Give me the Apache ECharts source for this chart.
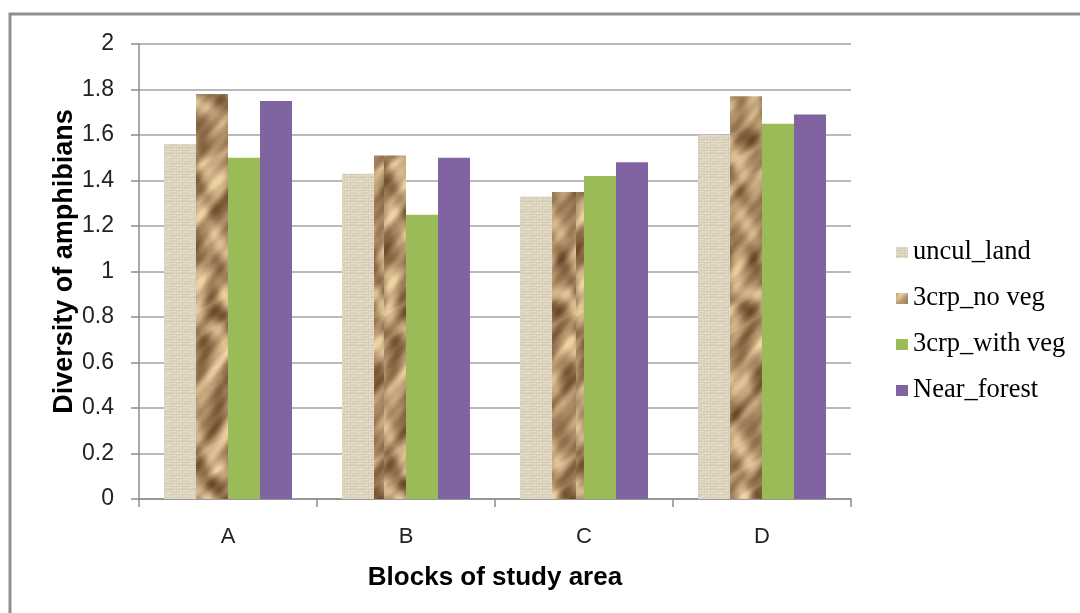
<!DOCTYPE html>
<html>
<head>
<meta charset="utf-8">
<style>
  html, body { margin: 0; padding: 0; background: #ffffff; }
  #chart { width: 1080px; height: 613px; }
</style>
<script src="https://cdn.jsdelivr.net/npm/echarts@6/dist/echarts.min.js"></script>
</head>
<body>
<div id="chart"></div>
<script>
// Blocks of the study area and the amphibian diversity index per land-use type
const categories = ['A', 'B', 'C', 'D'];
const unculLand = [1.56, 1.43, 1.33, 1.60];
const noVeg = [1.78, 1.51, 1.35, 1.77];
const withVeg = [1.50, 1.25, 1.42, 1.65];
const nearForest = [1.75, 1.50, 1.48, 1.69];
const seriesNames = ['uncul_land', '3crp_no veg', '3crp_with veg', 'Near_forest'];

// Small deterministic hash used for thread grain
function grain(x, y) {
  let h = (x * 374761393 + y * 668265263) >>> 0;
  h = ((h ^ (h >>> 13)) * 1274126177) >>> 0;
  return (h & 255) / 255;
}

// Woven linen fill
function linenTile() {
  const w = 24, h = 24;
  const c = document.createElement('canvas');
  c.width = w; c.height = h;
  const ctx = c.getContext('2d');
  const img = ctx.createImageData(w, h);
  const rowShade = [0, -6, 4, -12, 2, 0, -8, 5, -3, -14, 3, 0, -5, 6, -10, 0, 2, -7, 4, -12, 0, 3, -6, 1];
  const colShade = [0, 4, -9, 2, 0, -5, 3, 0, -10, 4, 1, -4, 0, 3, -8, 2, 0, -3, 4, -9, 1, 0, -5, 2];
  for (let y = 0; y < h; y++) {
    for (let x = 0; x < w; x++) {
      const d = rowShade[y] + colShade[x] * 0.7 + (grain(x, y) - 0.5) * 12;
      const i = (y * w + x) * 4;
      img.data[i] = Math.max(0, Math.min(255, 228 + d));
      img.data[i + 1] = Math.max(0, Math.min(255, 219 + d));
      img.data[i + 2] = Math.max(0, Math.min(255, 199 + d));
      img.data[i + 3] = 255;
    }
  }
  ctx.putImageData(img, 0, 0);
  return c;
}

// Crumpled brown paper fill
function paperTile() {
  const w = 96, h = 520;
  const c = document.createElement('canvas');
  c.width = w; c.height = h;
  const ctx = c.getContext('2d');
  const img = ctx.createImageData(w, h);
  const dark = [104, 70, 38], light = [238, 210, 164];
  for (let y = 0; y < h; y++) {
    for (let x = 0; x < w; x++) {
      const v = 0.34 * Math.sin(x * 0.17 + 3 * Math.sin(y * 0.031) + 1.5 * Math.sin(y * 0.083 + x * 0.05))
        + 0.28 * Math.sin(y * 0.09 + 2 * Math.sin(x * 0.11 - y * 0.023))
        + 0.22 * (1 - 2 * Math.abs(Math.sin(x * 0.07 + y * 0.05 + 2 * Math.sin(y * 0.04))))
        + 0.1 * Math.sin(x * 0.43 + y * 0.37)
        + (grain(x, y) - 0.5) * 0.06;
      let t = 0.56 + v * 0.6;
      t = Math.max(0, Math.min(1, t));
      const i = (y * w + x) * 4;
      img.data[i] = dark[0] + (light[0] - dark[0]) * t;
      img.data[i + 1] = dark[1] + (light[1] - dark[1]) * t;
      img.data[i + 2] = dark[2] + (light[2] - dark[2]) * t;
      img.data[i + 3] = 255;
    }
  }
  ctx.putImageData(img, 0, 0);
  return c;
}

const fills = [
  { image: linenTile(), repeat: 'repeat' },
  { image: paperTile(), repeat: 'repeat' },
  '#9bbb59',
  '#8064a2'
];
const values = [unculLand, noVeg, withVeg, nearForest];

const chart = echarts.init(document.getElementById('chart'), null, { renderer: 'canvas' });

const sansFont = 'Liberation Sans, Arial, sans-serif';

chart.setOption({
  animation: false,
  backgroundColor: '#ffffff',
  graphic: [{
    type: 'rect',
    shape: { x: 10, y: 14, width: 1100, height: 700 },
    style: { fill: 'none', stroke: '#8f8f8f', lineWidth: 3 },
    silent: true
  }],
  grid: { left: 139, right: 229, top: 44, bottom: 114 },
  legend: {
    orient: 'vertical',
    left: 891,
    top: 234,
    itemWidth: 12,
    itemHeight: 11,
    itemGap: 19,
    icon: 'rect',
    textStyle: { fontFamily: 'Liberation Serif, Times New Roman, serif', fontSize: 26.5, color: '#000' },
    data: seriesNames
  },
  xAxis: {
    type: 'category',
    data: categories,
    name: 'Blocks of study area',
    nameLocation: 'middle',
    nameGap: 66,
    nameMoveOverlap: false,
    nameTextStyle: { fontFamily: sansFont, fontSize: 26, fontWeight: 'bold', color: '#000' },
    axisLine: { lineStyle: { color: '#8c8c8c', width: 1.5 } },
    axisTick: { show: true, length: 8, interval: 0, lineStyle: { color: '#8c8c8c', width: 1.5 } },
    axisLabel: { fontFamily: sansFont, fontSize: 22, color: '#222', margin: 27 }
  },
  yAxis: {
    type: 'value',
    min: 0,
    max: 2,
    interval: 0.2,
    name: 'Diversity of amphibians',
    nameLocation: 'middle',
    nameGap: 61,
    nameMoveOverlap: false,
    nameTextStyle: { fontFamily: sansFont, fontSize: 27, fontWeight: 'bold', color: '#000', padding: [0, 0, 0, 20] },
    axisLine: { show: true, lineStyle: { color: '#8c8c8c', width: 1.5 } },
    axisTick: { show: true, length: 8, lineStyle: { color: '#8c8c8c', width: 1.5 } },
    axisLabel: {
      fontFamily: sansFont, fontSize: 23, color: '#222', margin: 25,
      formatter: v => String(Math.round(v * 10) / 10)
    },
    splitLine: { lineStyle: { color: '#a3a3a3', width: 1.5 } }
  },
  series: seriesNames.map((name, k) => ({
    name: name,
    type: 'bar',
    data: values[k],
    barWidth: 32,
    barGap: '0%',
    itemStyle: { color: fills[k] }
  }))
});
</script>
</body>
</html>
